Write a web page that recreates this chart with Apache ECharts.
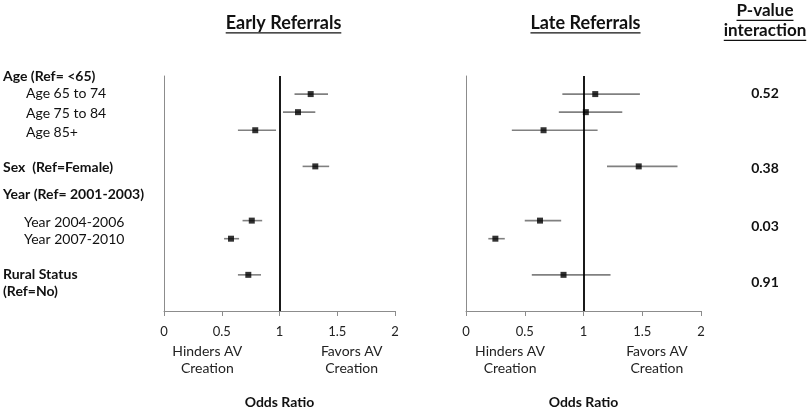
<!DOCTYPE html>
<html>
<head>
<meta charset="utf-8">
<script src="https://cdn.jsdelivr.net/npm/echarts@6/dist/echarts.min.js"></script>
<style>html,body{margin:0;padding:0;background:#fff}#c{width:810px;height:414px}</style>
</head>
<body>
<div id="c"></div>
<script>
// ---- data ----
const rows = ['Age 65 to 74', 'Age 75 to 84', 'Age 85+', 'Sex', 'Year 2004-2006', 'Year 2007-2010', 'Rural Status'];
const rowSlot = [12, 11, 10, 8, 5, 4, 2];
const earlyOR = [1.27, 1.16, 0.79, 1.31, 0.76, 0.58, 0.73];
const earlyLo = [1.13, 1.03, 0.64, 1.20, 0.68, 0.52, 0.64];
const earlyHi = [1.42, 1.31, 0.97, 1.43, 0.85, 0.65, 0.84];
const lateOR  = [1.10, 1.02, 0.66, 1.47, 0.63, 0.25, 0.83];
const lateLo  = [0.82, 0.79, 0.39, 1.20, 0.50, 0.19, 0.56];
const lateHi  = [1.48, 1.33, 1.12, 1.80, 0.81, 0.33, 1.23];
const labelTexts = ['Age (Ref= <65)', 'Age 65 to 74', 'Age 75 to 84', 'Age 85+', 'Sex  (Ref=Female)', 'Year (Ref= 2001-2003)', 'Year 2004-2006', 'Year 2007-2010', 'Rural Status\n(Ref=No)'];
const labelSlots = [13, 12.03, 10.95, 9.87, 7.93, 6.47, 4.9, 3.94, 1.54];
const labelKind = ['h', 'a', 'a', 'a', 'h', 'h', 'y', 'y', 'h'];
const pValues = ['0.52', '0.38', '0.03', '0.91'];
const pSlots = [12.03, 7.87, 4.69, 1.56];
const xTickInterval = 0.5;
const noteTexts = ['Hinders AV\nCreation', 'Favors AV\nCreation'];
const noteAt = [0.375, 1.625];
const panelTitles = ['Early Referrals', 'Late Referrals'];
const axisTitle = 'Odds Ratio';
const pTitle = ['P-value', 'interaction'];

const FONT = 'Lato, "Open Sans", sans-serif';
const chart = echarts.init(document.getElementById('c'));

function findIdx(arr, v) { for (let i = 0; i < arr.length; i++) if (Math.abs(arr[i] - v) < 0.005) return i; return -1; }

function mainX(gridIndex) {
  return {
    type: 'value', gridIndex, min: 0, max: 2, interval: xTickInterval,
    axisLine: { show: true, lineStyle: { color: '#8c8c8c', width: 1 } },
    axisTick: { show: true, length: 5, lineStyle: { color: '#8c8c8c' } },
    splitLine: { show: false },
    axisLabel: { color: '#222', fontSize: 13, fontFamily: FONT, margin: 14 },
    name: axisTitle, nameLocation: 'middle', nameGap: 84,
    nameTextStyle: { fontWeight: 'bold', fontSize: 14, color: '#111', fontFamily: FONT }
  };
}
function noteX(gridIndex) {
  return {
    type: 'value', gridIndex, min: 0, max: 2, position: 'bottom',
    axisLine: { show: false }, axisTick: { show: false }, splitLine: { show: false },
    axisLabel: {
      customValues: noteAt, margin: 32, color: '#222', fontSize: 14, lineHeight: 17, fontFamily: FONT,
      formatter: v => { const i = findIdx(noteAt, v); return i < 0 ? '' : noteTexts[i]; }
    }
  };
}
function bars(xi, yi, lo, hi) {
  return {
    type: 'custom', xAxisIndex: xi, yAxisIndex: yi, silent: true,
    data: rows.map((_, i) => [lo[i], hi[i], rowSlot[i]]),
    encode: { x: [0, 1], y: 2 },
    renderItem: (params, api) => {
      const a = api.coord([api.value(0), api.value(2)]);
      const b = api.coord([api.value(1), api.value(2)]);
      return { type: 'line', shape: { x1: a[0], y1: a[1], x2: b[0], y2: b[1] }, style: { stroke: '#808080', lineWidth: 1.6 } };
    },
    z: 2
  };
}
function points(xi, yi, or) {
  return {
    type: 'scatter', xAxisIndex: xi, yAxisIndex: yi, silent: true,
    data: rows.map((_, i) => [or[i], rowSlot[i]]),
    symbol: 'rect', symbolSize: 6, itemStyle: { color: '#000' }, z: 4,
    markLine: {
      silent: true, symbol: 'none', label: { show: false },
      lineStyle: { color: '#000', width: 1.8, type: 'solid' },
      data: [{ xAxis: 1 }]
    }
  };
}

const option = {
  animation: false,
  backgroundColor: '#fff',
  grid: [
    { left: 161, width: 234, top: 76, height: 241 },
    { left: 466, width: 235, top: 76, height: 241 }
  ],
  xAxis: [mainX(0), noteX(0), mainX(1), noteX(1)],
  yAxis: [
    {
      type: 'value', gridIndex: 0, min: 0, max: 13,
      axisLine: { show: true, lineStyle: { color: '#8c8c8c' } }, axisTick: { show: false }, splitLine: { show: false },
      axisLabel: {
        customValues: labelSlots, align: 'left', margin: 161, color: '#111', fontFamily: FONT,
        formatter: v => {
          const i = findIdx(labelSlots, v); if (i < 0) return '';
          const k = labelKind[i];
          return labelTexts[i].split('\n').map(t => '{' + k + '|' + t + '}').join('\n');
        },
        rich: {
          h: { fontWeight: 'bold', fontSize: 14, lineHeight: 17, color: '#111', fontFamily: FONT },
          a: { fontSize: 14, lineHeight: 17, color: '#111', fontFamily: FONT, padding: [0, 0, 0, 23] },
          y: { fontSize: 14, lineHeight: 17, color: '#111', fontFamily: FONT, padding: [0, 0, 0, 21] }
        }
      }
    },
    {
      type: 'value', gridIndex: 1, min: 0, max: 13,
      axisLine: { show: true, lineStyle: { color: '#8c8c8c' } }, axisTick: { show: false }, splitLine: { show: false },
      axisLabel: { show: false }
    },
    {
      type: 'value', gridIndex: 1, min: 0, max: 13, position: 'right',
      axisLine: { show: false }, axisTick: { show: false }, splitLine: { show: false },
      axisLabel: {
        customValues: pSlots, align: 'center', margin: 64, fontWeight: 'bold', fontSize: 14, color: '#111', fontFamily: FONT,
        formatter: v => { const i = findIdx(pSlots, v); return i < 0 ? '' : pValues[i]; }
      }
    }
  ],
  series: [
    bars(0, 0, earlyLo, earlyHi), points(0, 0, earlyOR),
    bars(2, 1, lateLo, lateHi), points(2, 1, lateOR)
  ]
};
chart.setOption(option);

// underlined headings
const ctx = document.createElement('canvas').getContext('2d');
function underlined(text, cx, cy, size) {
  ctx.font = 'bold ' + size + 'px ' + FONT;
  const w = ctx.measureText(text).width;
  return [
    { type: 'text', x: cx, y: cy, style: { text, fill: '#111', font: 'bold ' + size + 'px ' + FONT, align: 'center', verticalAlign: 'middle' } },
    { type: 'line', shape: { x1: cx - w / 2, y1: cy + size * 0.55, x2: cx + w / 2, y2: cy + size * 0.55 }, style: { stroke: '#111', lineWidth: 1.3 } }
  ];
}
const c0 = chart.convertToPixel({ xAxisIndex: 0 }, 1) + 4;
const c1 = chart.convertToPixel({ xAxisIndex: 2 }, 1) + 2;
const pX = chart.convertToPixel({ yAxisIndex: 2 }, 0) !== undefined ? chart.convertToPixel({ xAxisIndex: 2 }, 2) + 64 : 765;
const els = [].concat(
  underlined(panelTitles[0], c0, 23, 18),
  underlined(panelTitles[1], c1, 23, 18),
  underlined(pTitle[0], pX, 11, 17),
  underlined(pTitle[1], pX, 31, 17)
);
chart.setOption({ graphic: els });
</script>
</body>
</html>
